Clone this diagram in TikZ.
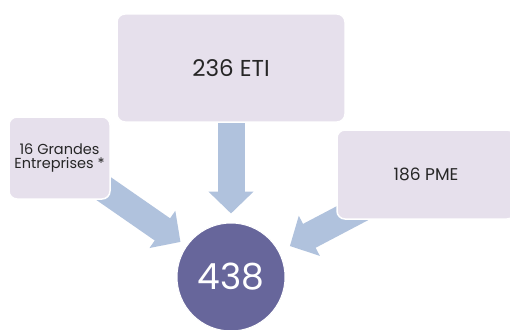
\documentclass[tikz,border=0pt]{standalone}
\usepackage{fontspec}
\setmainfont{Poppins}
\usetikzlibrary{arrows.meta,backgrounds}

\definecolor{boxfill}{HTML}{E6E0EC}
\definecolor{arrowblue}{HTML}{B0C2DD}
\definecolor{totalfill}{HTML}{67669B}

\begin{document}
\begin{tikzpicture}[x=1pt,y=-1pt,
    box/.style={rectangle,rounded corners=8pt,fill=boxfill,draw=white,line width=1.5pt,
      inner sep=0pt,align=center,text=black!85},
    bigarrow/.style={arrowblue,line width=27pt,-{Triangle[width=44pt,length=22pt]}}]
      \useasboundingbox (0,0) rectangle (510,329);
      \node[box,minimum width=228pt,minimum height=108pt,font=\fontsize{23}{26}\selectfont] (eti) at (231,68) {236 ETI};
      \node[box,minimum width=101pt,minimum height=82pt,font=\fontsize{14.5}{14}\selectfont] (ge) at (59.5,158) {16 Grandes\\Entreprises *};
      \node[box,minimum width=178pt,minimum height=89pt,font=\fontsize{17}{20}\selectfont] (pme) at (426,174.5) {186 PME};
      \node[circle,fill=totalfill,draw=white,line width=1pt,minimum size=108pt,inner sep=0pt,
        text=white,font=\fontsize{36}{40}\selectfont] (total) at (231,277) {438};
      % arrows behind the boxes
      \begin{scope}[on background layer]
        \draw[bigarrow,shorten >=9pt] (eti.center) -- (total);
        \draw[bigarrow,shorten >=7pt] (ge.center) -- (total);
        \draw[bigarrow,shorten >=12pt] (pme.center) -- (total);
      \end{scope}
    \end{tikzpicture}
\end{document}
